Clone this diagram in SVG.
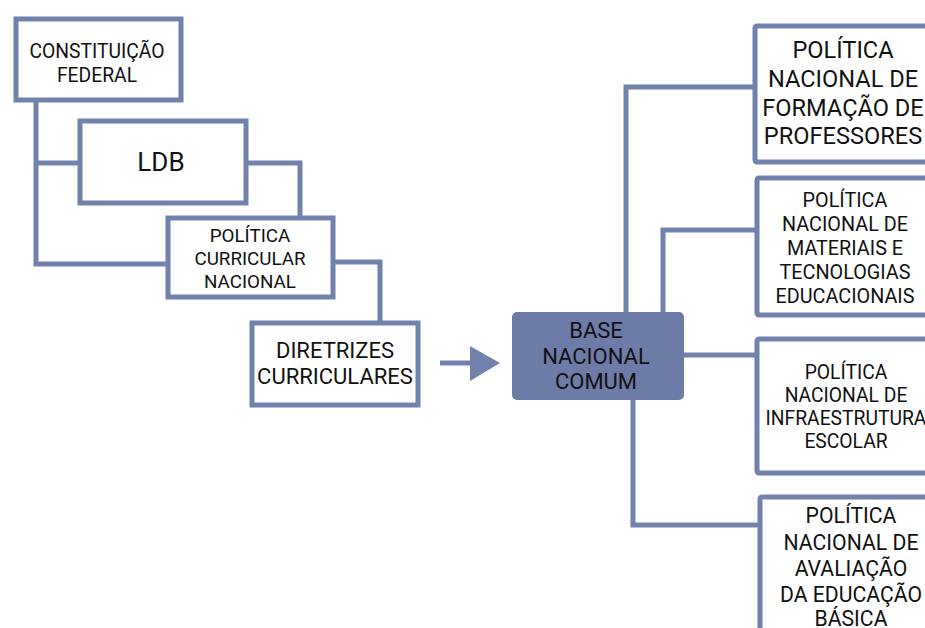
<svg xmlns="http://www.w3.org/2000/svg" width="925" height="628" viewBox="0 0 925 628">
<style>
.box{fill:#ffffff;stroke:#7183ad;stroke-width:5;}
.hub{fill:#6c7ca6;stroke:#6c7ca6;stroke-width:2;}
.con{fill:none;stroke:#7183ad;stroke-width:5;stroke-linejoin:miter;}
text{font-family:Roboto,"Liberation Sans",sans-serif;fill:#111111;text-anchor:middle;}
</style>
<rect width="925" height="628" fill="#ffffff"/>
<g id="connectors">
<path class="con" d="M36,100 V264 H168"/>
<path class="con" d="M36,163 H80"/>
<path class="con" d="M246,163 H300 V218"/>
<path class="con" d="M333,262 H380 V323"/>
<path class="con" d="M626,313 V87 H755"/>
<path class="con" d="M663,313 V230 H757"/>
<path class="con" d="M683,355 H757"/>
<path class="con" d="M633,399 V525 H760"/>
<path class="con" d="M440,363 H472"/>
<polygon points="470,346 500,363 470,381" fill="#7183ad"/>
</g>
<g id="cf">
<rect class="box" x="16" y="19" width="165" height="81"/>
<text x="97" y="58" font-size="19.3">CONSTITUIÇÃO</text>
<text x="97" y="82" font-size="19.3">FEDERAL</text>
</g>
<g id="ldb">
<rect class="box" x="80" y="121" width="166" height="82"/>
<text x="161" y="171" font-size="26">LDB</text>
</g>
<g id="pcn">
<rect class="box" x="168" y="218" width="165" height="79"/>
<text x="250" y="242" font-size="18.8">POLÍTICA</text>
<text x="250" y="265" font-size="18.8">CURRICULAR</text>
<text x="250" y="288" font-size="18.8">NACIONAL</text>
</g>
<g id="dir">
<rect class="box" x="252" y="323" width="166" height="82"/>
<text x="335" y="358" font-size="22">DIRETRIZES</text>
<text x="335" y="384" font-size="22">CURRICULARES</text>
</g>
<g id="bnc">
<rect class="hub" x="513" y="313" width="170" height="86" rx="4"/>
<text x="596" y="338" font-size="22" fill="#1a1a1a">BASE</text>
<text x="596" y="364" font-size="22" fill="#1a1a1a">NACIONAL</text>
<text x="596" y="389" font-size="22" fill="#1a1a1a">COMUM</text>
</g>
<g id="pnfp">
<rect class="box" x="755" y="26" width="190" height="136" rx="2"/>
<text x="843" y="58" font-size="23.6">POLÍTICA</text>
<text x="843" y="87" font-size="23.6">NACIONAL DE</text>
<text x="843" y="116" font-size="23.6">FORMAÇÃO DE</text>
<text x="843" y="144" font-size="23.6">PROFESSORES</text>
</g>
<g id="pnmte">
<rect class="box" x="757" y="178" width="190" height="137" rx="2"/>
<text x="845" y="207" font-size="19.8">POLÍTICA</text>
<text x="845" y="231" font-size="19.8">NACIONAL DE</text>
<text x="845" y="255" font-size="19.8">MATERIAIS E</text>
<text x="845" y="279" font-size="19.8">TECNOLOGIAS</text>
<text x="845" y="303" font-size="19.8">EDUCACIONAIS</text>
</g>
<g id="pnie">
<rect class="box" x="757" y="339" width="190" height="134" rx="2"/>
<text x="846" y="379" font-size="19.3">POLÍTICA</text>
<text x="846" y="402" font-size="19.3">NACIONAL DE</text>
<text x="846" y="425" font-size="19.3">INFRAESTRUTURA</text>
<text x="846" y="448" font-size="19.3">ESCOLAR</text>
</g>
<g id="pnaeb">
<rect class="box" x="760" y="497" width="190" height="150" rx="2"/>
<text x="851" y="523" font-size="21.2">POLÍTICA</text>
<text x="851" y="550" font-size="21.2">NACIONAL DE</text>
<text x="851" y="576" font-size="21.2">AVALIAÇÃO</text>
<text x="851" y="602" font-size="21.2">DA EDUCAÇÃO</text>
<text x="851" y="626" font-size="21.2">BÁSICA</text>
</g>
</svg>
